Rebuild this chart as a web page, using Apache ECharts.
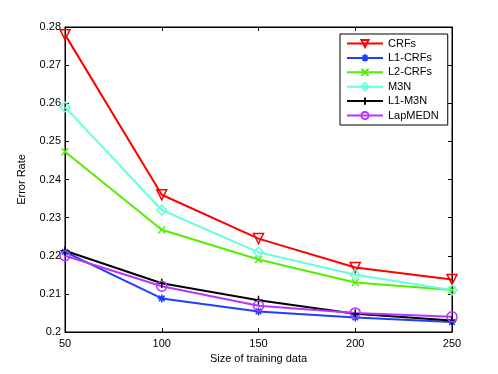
<!DOCTYPE html>
<html>
<head>
<meta charset="utf-8">
<script src="https://cdn.jsdelivr.net/npm/echarts@6/dist/echarts.min.js"></script>
<style>
html, body { margin: 0; padding: 0; background: #fff; }
#main { width: 498px; height: 374px; }
</style>
</head>
<body>
<div id="main"></div>
<script>
var sizes = [50, 100, 150, 200, 250];
var crfs = [0.278, 0.236, 0.2245, 0.2169, 0.2138];
var l1Crfs = [0.221, 0.2088, 0.2054, 0.2038, 0.2026];
var l2Crfs = [0.2473, 0.2268, 0.219, 0.213, 0.211];
var m3n = [0.259, 0.232, 0.2209, 0.215, 0.211];
var l1M3n = [0.2213, 0.2128, 0.2083, 0.2048, 0.203];
var lapMedn = [0.22, 0.212, 0.2069, 0.205, 0.204];

var font = "'Liberation Sans', Arial, sans-serif";

function pairs(ys) {
    return sizes.map(function (x, i) { return [x, ys[i]]; });
}

function mk(name, ys, color, symbol, size) {
    return {
        name: name,
        type: "line",
        data: pairs(ys),
        symbol: symbol,
        symbolSize: size,
        showAllSymbol: true,
        lineStyle: { color: color, width: 2 },
        itemStyle: { color: "rgba(0,0,0,0)", borderColor: color, borderWidth: 1.5 },
        emphasis: { disabled: true }
    };
}

var xMark = "path://M0,0L10,10M10,0L0,10";
var plusMark = "path://M5,0L5,10M0,5L10,5";
var starMark = "path://M5,0L5,10M0,5L10,5M1.5,1.5L8.5,8.5M8.5,1.5L1.5,8.5";
var triDown = "path://M0,0L10,0L5,9Z";

var myChart = echarts.init(document.getElementById("main"));
option = {
    backgroundColor: "#fff",
    animation: false,
    grid: { left: 65, right: 46, top: 27, bottom: 42, show: true, borderColor: "#000", borderWidth: 1 },
    xAxis: [{
        type: "value", min: 50, max: 250, interval: 50,
        name: "Size of training data", nameLocation: "middle", nameGap: 20,
        nameTextStyle: { fontFamily: font, fontSize: 11, color: "#000" },
        axisLine: { show: true, lineStyle: { color: "#000" } },
        axisTick: { inside: true, length: 4, lineStyle: { color: "#000" } },
        axisLabel: { fontFamily: font, fontSize: 11, color: "#000", margin: 6 },
        splitLine: { show: false }
    }, {
        type: "value", min: 50, max: 250, interval: 50, position: "top",
        axisLine: { show: true, lineStyle: { color: "#000" } },
        axisTick: { inside: true, length: 4, lineStyle: { color: "#000" } },
        axisLabel: { show: false }, splitLine: { show: false }
    }],
    yAxis: [{
        type: "value", min: 0.2, max: 0.28, interval: 0.01,
        name: "Error Rate", nameLocation: "middle", nameGap: 38,
        nameTextStyle: { fontFamily: font, fontSize: 11, color: "#000" },
        axisLine: { show: true, lineStyle: { color: "#000" } },
        axisTick: { inside: true, length: 4, lineStyle: { color: "#000" } },
        axisLabel: {
            fontFamily: font, fontSize: 11, color: "#000", margin: 4,
            formatter: function (v) { return String(parseFloat(v.toFixed(2))); }
        },
        splitLine: { show: false }
    }, {
        type: "value", min: 0.2, max: 0.28, interval: 0.01, position: "right",
        axisLine: { show: true, lineStyle: { color: "#000" } },
        axisTick: { inside: true, length: 4, lineStyle: { color: "#000" } },
        axisLabel: { show: false }, splitLine: { show: false }
    }],
    legend: {
        orient: "vertical", left: 340, top: 34,
        backgroundColor: "#fff", borderColor: "#000", borderWidth: 1,
        padding: [4, 9, 4, 6], itemGap: 3.4, itemWidth: 36, itemHeight: 9,
        textStyle: { fontFamily: font, fontSize: 11, color: "#000" },
        data: ["CRFs", "L1-CRFs", "L2-CRFs", "M3N", "L1-M3N", "LapMEDN"]
    },
    series: [
        mk("CRFs", crfs, "#ff0000", triDown, 10),
        mk("L1-CRFs", l1Crfs, "#1f3fff", starMark, 8),
        mk("L2-CRFs", l2Crfs, "#55ee00", xMark, 7),
        mk("M3N", m3n, "#66ffdd", "diamond", 10),
        mk("L1-M3N", l1M3n, "#000000", plusMark, 9),
        mk("LapMEDN", lapMedn, "#bb33ff", "circle", 10)
    ]
};
if (option && typeof option === "object") {
    myChart.setOption(option, true);
}
</script>
</body>
</html>
